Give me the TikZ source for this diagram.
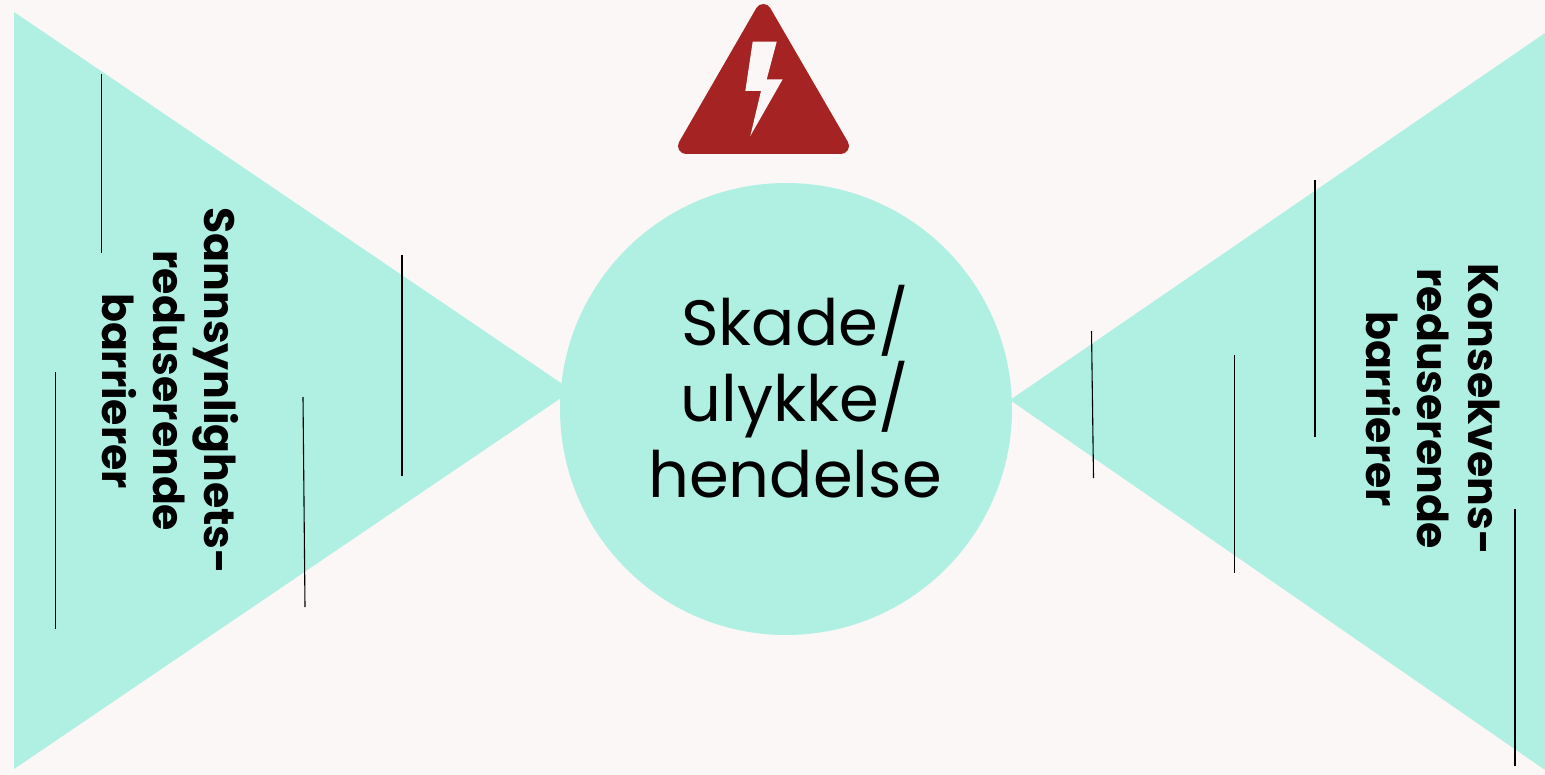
\documentclass[tikz,border=0pt]{standalone}
\usepackage{fontspec}
\setmainfont{Poppins}
\definecolor{bgcol}{HTML}{FBF7F6}
\definecolor{mint}{HTML}{AFF0E3}
\definecolor{warnred}{HTML}{A52323}
\tikzset{
    barrier/.style={draw=black, line width=0.55pt},
    sidetext/.style={rotate=-90, align=center, font=\fontsize{21.3}{25.5}\selectfont\bfseries, inner sep=0pt},
    hazardtext/.style={align=center, font=\fontsize{32}{38}\selectfont, inner sep=0pt}
}
\begin{document}
\begin{tikzpicture}[x=0.5pt, y=-0.5pt]
    \useasboundingbox (0,0) rectangle (1545,775);
    \fill[bgcol] (0,0) rectangle (1545,775);
    \fill[mint] (14,12) -- (572,390.5) -- (14,769) -- cycle;
    \fill[mint] (1545,33) -- (1010,400) -- (1545,770) -- cycle;
    \fill[mint] (786,409) circle (113pt);
    \filldraw[warnred, line width=8pt, line join=round] (763.3,12) -- (841,146) -- (686,146) -- cycle;
    \fill[bgcol] (752.7,41.7) -- (776.7,41.7) -- (766.7,79.3) -- (782.7,79.3) -- (750.3,136) -- (761,91) -- (745.3,91) -- cycle;
    \foreach \xa/\ya/\xb/\yb in {101.5/74/101.5/253, 402/255/402/476, 55.5/372/55.5/629, 303/397/305/607,
        1091.5/331/1093.5/478, 1315/180/1315/437, 1234.5/355/1234.5/573, 1515/509/1515/766}
        \draw[barrier] (\xa,\ya) -- (\xb,\yb);
    \node[hazardtext] (hazard) at (795,391.5) {Skade/\\ulykke/\\hendelse};
    \node[sidetext] (leftbarrier) at (170,391) {Sannsynlighets-\\reduserende\\barrierer};
    \node[sidetext] (rightbarrier) at (1433,409) {Konsekvens-\\reduserende\\barrierer};
\end{tikzpicture}
\end{document}
